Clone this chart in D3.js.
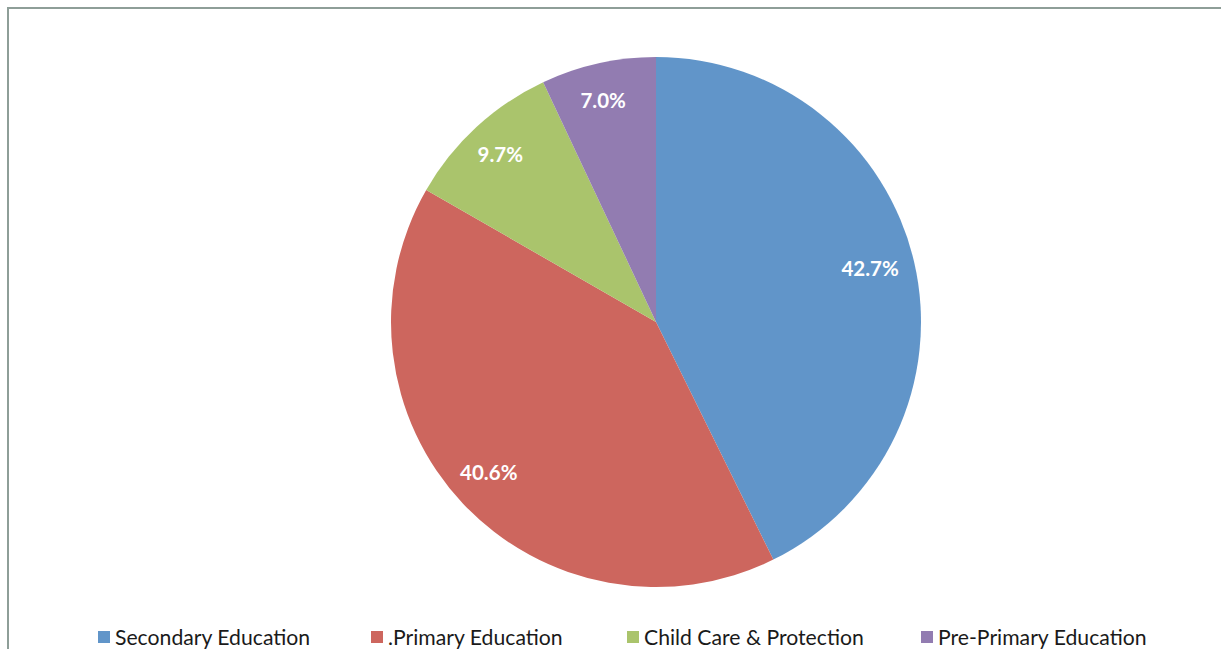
<!DOCTYPE html>
<html>
<head>
<meta charset="utf-8">
<script src="https://cdn.jsdelivr.net/npm/d3@7"></script>
<style>
  html, body { margin: 0; padding: 0; background: #fff; }
  svg { display: block; }
</style>
</head>
<body>
<svg id="chart" width="1221" height="649"></svg>
<script>
// Share of spending by programme area
const categories = ["Secondary Education", ".Primary Education", "Child Care & Protection", "Pre-Primary Education"];
const shares = [42.7, 40.6, 9.7, 7.0];
const sliceColors = ["#6195C9", "#CD665E", "#AAC46C", "#927CB1"];

const W = 1221, H = 649;
const svg = d3.select("#chart");

// chart frame
svg.append("path")
  .attr("d", `M8,${H} V8 H${W}`)
  .attr("fill", "none")
  .attr("stroke", "#8E9E98")
  .attr("stroke-width", 2);

const cx = 656, cy = 322, R = 265;
const g = svg.append("g").attr("transform", `translate(${cx},${cy})`);

const pie = d3.pie().sort(null).value(d => d.v);
const arcs = pie(categories.map((c, i) => ({ c, v: shares[i] })));
const color = d3.scaleOrdinal().domain(categories).range(sliceColors);

const arc = d3.arc().innerRadius(0).outerRadius(R);
const labelArc = d3.arc().innerRadius(R * 0.845).outerRadius(R * 0.845);

g.selectAll("path.slice")
  .data(arcs)
  .join("path")
  .attr("class", "slice")
  .attr("d", arc)
  .attr("fill", d => color(d.data.c));

g.selectAll("text.pct")
  .data(arcs)
  .join("text")
  .attr("class", "pct")
  .attr("transform", d => {
    const [x, y] = labelArc.centroid(d);
    return `translate(${x - 4},${y - 3})`;
  })
  .attr("text-anchor", "middle")
  .attr("dominant-baseline", "central")
  .attr("fill", "#fff")
  .attr("font-family", "Lato, 'Open Sans', sans-serif")
  .attr("font-weight", "bold")
  .attr("font-size", 20.5)
  .text(d => d3.format(".1f")(d.data.v) + "%");

// legend along the bottom
const legendX = [98, 371, 627, 921];
const legend = svg.append("g");
const items = legend.selectAll("g")
  .data(categories)
  .join("g")
  .attr("transform", (d, i) => `translate(${legendX[i]},631)`);
items.append("rect")
  .attr("width", 12).attr("height", 12)
  .attr("fill", d => color(d));
items.append("text")
  .attr("x", 17).attr("y", 13.5)
  .attr("font-family", "Lato, 'Open Sans', sans-serif")
  .attr("font-size", 21.2)
  .attr("fill", "#1a1a1a")
  .text(d => d);
</script>
</body>
</html>
